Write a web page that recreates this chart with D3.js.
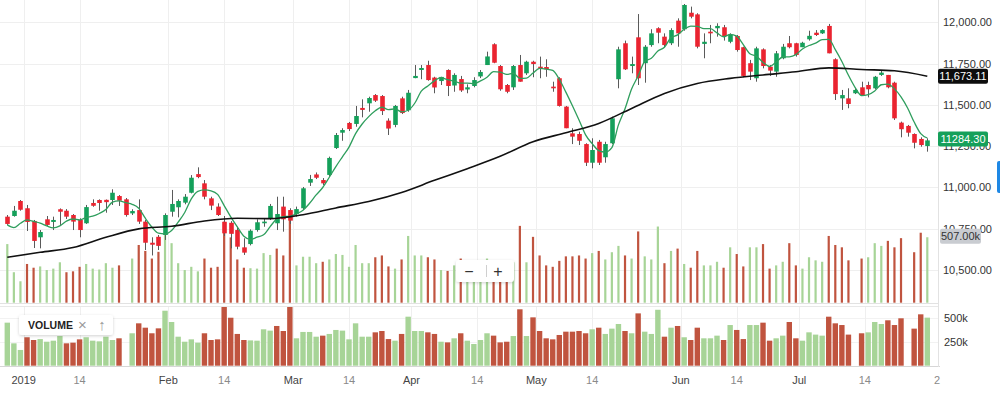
<!DOCTYPE html>
<html><head><meta charset="utf-8">
<script src="https://cdn.jsdelivr.net/npm/d3@7"></script>
<style>
html,body{margin:0;padding:0;background:#fff;overflow:hidden;}
svg{display:block;font-family:"Liberation Sans",Arial,Helvetica,sans-serif;}
</style></head><body>
<svg id="chart" width="1000" height="395"></svg>
<script>
// ---------------- data ----------------
const opens = [10822,10826,10917,10873,10796,10697,10806,10790,10867,10858,10832,10802,10782,10905,10923,10924,10923,10947,10927,10842,
10862,10792,10664,10700,10711,10852,10879,10907,10967,11080,11024,10933,10883,10791,10785,10741,10636,10656,10741,10782,
10812,10782,10883,10862,10838,10873,11028,11078,11044,11075,11238,11331,11390,11384,11481,11509,11559,11553,11404,11378,
11539,11467,11662,11711,11741,11665,11644,11711,11617,11656,11593,11614,11672,11741,11867,11735,11620,11606,11741,11691,
11761,11731,11729,11610,11661,11489,11327,11323,11262,11149,11276,11182,11267,11655,11873,11735,11909,11752,11862,11964,
11913,11873,12010,11958,12058,12048,11869,11943,11964,11970,11882,11917,11849,11752,11661,11836,11731,11701,11782,11873,
11873,11849,11897,11937,11933,11978,11776,11539,11539,11570,11606,11620,11600,11681,11681,11634,11392,11372,11323,11293,11250];
const highs = [10832,10887,10923,10893,10802,10741,10826,10822,10872,10868,10838,10812,10893,10927,10927,10926,10988,10953,10935,10867,
10927,10802,10697,10711,10842,10984,10927,10959,11074,11121,11044,10943,10903,10826,10795,10761,10691,10745,10806,10812,
10899,10943,10943,10873,10883,11002,11075,11090,11056,11186,11329,11358,11396,11493,11533,11549,11565,11559,11418,11499,
11549,11590,11741,11741,11767,11670,11670,11715,11691,11675,11624,11667,11711,11822,11873,11741,11626,11741,11802,11767,
11767,11792,11776,11640,11667,11493,11358,11337,11267,11297,11287,11276,11428,11852,11889,11792,12050,11862,11958,11970,
11933,11964,12024,12111,12095,12055,11933,11984,11994,11984,11933,11923,11852,11772,11852,11842,11741,11826,11869,11917,
11876,11882,11949,11953,11958,11990,11782,11590,11600,11600,11640,11640,11675,11707,11681,11640,11398,11378,11327,11303,11297];
const lows = [10772,10822,10858,10735,10632,10630,10766,10741,10772,10808,10741,10697,10778,10882,10858,10846,10893,10887,10822,10832,
10778,10620,10587,10620,10681,10822,10818,10897,10963,11055,10927,10862,10826,10705,10630,10624,10590,10648,10731,10761,
10802,10741,10731,10778,10822,10862,11008,11050,11014,11064,11232,11282,11341,11367,11424,11458,11517,11438,11317,11364,
11444,11458,11661,11655,11646,11570,11620,11553,11579,11578,11570,11606,11662,11741,11752,11585,11570,11590,11640,11681,
11667,11661,11670,11579,11489,11358,11262,11256,11129,11115,11135,11149,11262,11600,11711,11691,11620,11634,11852,11873,
11849,11862,11852,11949,12024,11842,11782,11873,11913,11889,11873,11822,11667,11650,11640,11721,11675,11670,11776,11842,
11792,11849,11889,11917,11929,11812,11529,11469,11479,11565,11559,11545,11594,11675,11600,11408,11303,11307,11236,11246,11216];
const closes = [10778,10858,10864,10790,10675,10729,10772,10802,10852,10822,10792,10741,10880,10888,10905,10910,10967,10919,10832,10856,
10792,10664,10652,10645,10832,10899,10917,10943,11058,11062,10943,10889,10832,10721,10718,10640,10604,10737,10788,10792,
10887,10838,10806,10798,10868,10994,11050,11058,11024,11178,11317,11347,11353,11432,11469,11541,11525,11462,11356,11493,
11450,11573,11675,11723,11650,11605,11669,11614,11681,11587,11606,11650,11699,11793,11755,11594,11579,11735,11640,11761,
11747,11719,11715,11600,11493,11358,11307,11282,11149,11226,11149,11262,11418,11836,11715,11747,11661,11852,11933,11937,
11862,11953,11933,12105,12034,11852,11882,11933,11978,11917,11923,11832,11675,11701,11842,11735,11707,11812,11852,11849,
11802,11876,11918,11923,11953,11812,11565,11559,11505,11590,11559,11594,11670,11695,11606,11418,11352,11331,11270,11256,11284.30];
// volume in thousands (null = no volume reported)
const volumes = [454,236,166,300,271,281,253,264,313,236,243,278,300,264,257,306,271,289,null,342,
447,401,342,394,580,461,306,253,278,243,342,271,278,628,506,335,271,267,264,384,
370,419,366,718,289,356,356,306,317,335,377,370,278,447,306,306,352,366,281,264,
335,517,366,366,352,335,253,246,289,342,264,229,271,342,317,246,253,313,595,313,
510,366,289,278,324,359,359,366,342,384,401,335,391,440,366,342,552,359,335,590,
306,401,419,300,271,401,289,289,317,271,429,377,281,429,429,454,264,289,317,461,
289,264,352,328,317,517,447,429,328,null,342,352,461,440,479,429,500,null,391,542,507];
// closes of the four sessions before the first visible bar (for the 5-bar average)
const priorCloses = [10938,10734,10690,10720];
// 50-bar moving average every 5th bar
const ma50Every5 = [10576,10606,10635,10697,10748,10764,10796,10812,10810,10834,10875,10914,10969,11042,11113,11188,11276,11331,11387,11478,
11569,11629,11660,11681,11700,11724,11714,11706,11673.11];
const xTickLabels = ["2019","14","Feb","14","Mar","14","Apr","14","May","14","Jun","14","Jul","14","2"];
const xTickBars   = [2.5,11,24.5,33,43.5,52,61.5,71.5,80.5,89,102.5,111,120.5,130.5,141.5];
const priceTicks = [10500,10750,11000,11250,11500,11750,12000];
const volumeTicks = [250,500];

// ---------------- layout ----------------
const plotRight = 938;
const mainBottom = 303, volTop = 307, volBottom = 366;
const svg = d3.select("#chart");
const defs = svg.append("defs");
defs.append("clipPath").attr("id","clipMain").append("rect").attr("x",0).attr("y",0).attr("width",plotRight).attr("height",mainBottom);
defs.append("clipPath").attr("id","clipVol").append("rect").attr("x",0).attr("y",volTop).attr("width",plotRight).attr("height",volBottom-volTop);
const sh = defs.append("filter").attr("id","shadow").attr("x","-20%").attr("y","-40%").attr("width","140%").attr("height","180%");
sh.append("feDropShadow").attr("dx",0).attr("dy",1).attr("stdDeviation",1.6).attr("flood-color","#000").attr("flood-opacity",0.18);

const n = closes.length;
const x = d3.scaleLinear().domain([0, n-1]).range([7.3, 927.3]);
const y = d3.scaleLinear().domain([10500, 12000]).range([269.8, 22.3]);
const vOver = d3.scaleLinear().domain([0, d3.max(volumes)]).range([302.7, 210]);
const vPane = d3.scaleLinear().domain([0, 500]).range([365.7, 318.3]);

const upC = "#14a05a", dnC = "#ea2430";
const volUp = "#a7d497", volDn = "#c0543f";

const isUp = i => {
  const prev = i > 0 ? closes[i-1] : priorCloses[priorCloses.length-1];
  return closes[i] >= prev;
};

// grid
const grid = svg.append("g");
grid.selectAll("line.h").data(priceTicks).join("line")
  .attr("x1",0).attr("x2",plotRight).attr("y1",d=>Math.round(y(d))+0.5).attr("y2",d=>Math.round(y(d))+0.5)
  .attr("stroke","#efefef");
grid.selectAll("line.hv").data(volumeTicks).join("line")
  .attr("x1",0).attr("x2",plotRight).attr("y1",d=>Math.round(vPane(d))+0.5).attr("y2",d=>Math.round(vPane(d))+0.5)
  .attr("stroke","#f2f2f2");
const vt = xTickBars.slice(0,-1);
grid.selectAll("line.v1").data(vt).join("line")
  .attr("x1",d=>Math.round(x(d))+0.5).attr("x2",d=>Math.round(x(d))+0.5).attr("y1",0).attr("y2",mainBottom)
  .attr("stroke","#efefef");
grid.selectAll("line.v2").data(vt).join("line")
  .attr("x1",d=>Math.round(x(d))+0.5).attr("x2",d=>Math.round(x(d))+0.5).attr("y1",volTop).attr("y2",volBottom)
  .attr("stroke","#efefef");

// panel borders
svg.append("line").attr("x1",0).attr("x2",plotRight).attr("y1",303.5).attr("y2",303.5).attr("stroke","#e2e2e2");
svg.append("line").attr("x1",0).attr("x2",plotRight).attr("y1",306.5).attr("y2",306.5).attr("stroke","#e8e8e8");
svg.append("line").attr("x1",0).attr("x2",plotRight+2).attr("y1",366.5).attr("y2",366.5).attr("stroke","#d6d6d6");
svg.append("line").attr("x1",plotRight+0.5).attr("x2",plotRight+0.5).attr("y1",0).attr("y2",367).attr("stroke","#e2e2e2");

// main pane
const main = svg.append("g").attr("clip-path","url(#clipMain)");
const idx = d3.range(n);
// volume underlay
main.append("g").selectAll("rect").data(idx.filter(i=>volumes[i]!=null)).join("rect")
  .attr("x",i=>x(i)-1.1).attr("width",2.2)
  .attr("y",i=>vOver(volumes[i])).attr("height",i=>vOver(0)-vOver(volumes[i]))
  .attr("fill",i=>isUp(i)?volUp:volDn);
// wicks
main.append("g").selectAll("line").data(idx).join("line")
  .attr("x1",i=>Math.round(x(i))+0.5).attr("x2",i=>Math.round(x(i))+0.5)
  .attr("y1",i=>y(highs[i])).attr("y2",i=>y(lows[i]))
  .attr("stroke","#5a5a5a").attr("stroke-width",1);
// bodies
main.append("g").selectAll("rect").data(idx).join("rect")
  .attr("x",i=>Math.round(x(i))+0.5-2.3).attr("width",4.6)
  .attr("y",i=>y(Math.max(opens[i],closes[i])))
  .attr("height",i=>Math.max(1.2, Math.abs(y(opens[i])-y(closes[i]))))
  .attr("fill",i=>closes[i]>=opens[i]?upC:dnC);
// 5-bar moving average
const allC = priorCloses.concat(closes);
const ma5 = idx.map(i => d3.mean(allC.slice(i, i+5)));
main.append("path").datum(idx)
  .attr("d", d3.line().x(i=>x(i)).y(i=>y(ma5[i])).curve(d3.curveMonotoneX))
  .attr("fill","none").attr("stroke","#2f9e5d").attr("stroke-width",1.3);
// 50-bar moving average
main.append("path").datum(ma50Every5.map((v,k)=>[k*5,v]))
  .attr("d", d3.line().x(d=>x(d[0])).y(d=>y(d[1])).curve(d3.curveMonotoneX))
  .attr("fill","none").attr("stroke","#111").attr("stroke-width",1.6);

// volume pane
const vol = svg.append("g").attr("clip-path","url(#clipVol)");
vol.selectAll("rect").data(idx.filter(i=>volumes[i]!=null)).join("rect")
  .attr("x",i=>x(i)-2.7).attr("width",5.4)
  .attr("y",i=>vPane(volumes[i])).attr("height",i=>vPane(0)-vPane(volumes[i]))
  .attr("fill",i=>isUp(i)?volUp:volDn);

// axes text
const fmt = d3.format(",.2f");
svg.append("g").selectAll("text").data(priceTicks).join("text")
  .attr("x",943).attr("y",d=>y(d)).attr("dy","0.36em")
  .attr("font-size",11).attr("fill","#333").text(d=>fmt(d));
svg.append("g").selectAll("text").data(volumeTicks).join("text")
  .attr("x",944).attr("y",d=>vPane(d)).attr("dy","0.36em")
  .attr("font-size",11).attr("fill","#333").text(d=>d+"k");
svg.append("g").selectAll("text").data(xTickBars).join("text")
  .attr("x",d=>x(d)).attr("y",384).attr("text-anchor","middle")
  .attr("font-size",11).attr("fill",(d,i)=>/^\d{1,2}$/.test(xTickLabels[i])?"#8a8a8a":"#444")
  .text((d,i)=>xTickLabels[i]);

// price / value badges
function badge(cy, txt, fill, color, x0, w){
  const g = svg.append("g");
  g.append("rect").attr("x",x0).attr("y",cy-7.5).attr("width",w).attr("height",15).attr("rx",2).attr("fill",fill);
  g.append("text").attr("x",x0+w/2).attr("y",cy).attr("dy","0.36em").attr("text-anchor","middle")
    .attr("font-size",11).attr("fill",color).text(txt);
}
badge(y(ma50Every5[ma50Every5.length-1]), fmt(ma50Every5[ma50Every5.length-1]), "#0d0d0d", "#fff", 938, 50);
badge(y(closes[n-1]) - 1.5, d3.format(".2f")(closes[n-1]), "#15a05a", "#fff", 938, 50);
badge(vOver(volumes[n-1]) - 1, d3.format(".2f")(volumes[n-1])+"k", "#c9ccd1", "#333", 940, 41);

// right-edge blue tab
svg.append("rect").attr("x",997).attr("y",161).attr("width",5).attr("height",32).attr("rx",2).attr("fill","#1e88e5");

// zoom buttons
const zb = svg.append("g");
zb.append("rect").attr("x",456).attr("y",260).attr("width",58).attr("height",22).attr("rx",3)
  .attr("fill","#fff").attr("filter","url(#shadow)");
zb.append("line").attr("x1",486.5).attr("x2",486.5).attr("y1",265).attr("y2",277).attr("stroke","#cfcfcf");
zb.append("text").attr("x",469).attr("y",271).attr("dy","0.36em").attr("text-anchor","middle").attr("font-size",16).attr("fill","#333").text("\u2212");
zb.append("text").attr("x",498).attr("y",271).attr("dy","0.36em").attr("text-anchor","middle").attr("font-size",16).attr("fill","#333").text("+");

// study label
const sl = svg.append("g");
sl.append("rect").attr("x",19).attr("y",315).attr("width",94).attr("height",20).attr("rx",3)
  .attr("fill","#fff").attr("filter","url(#shadow)");
sl.append("text").attr("x",28).attr("y",325).attr("dy","0.36em").attr("font-size",10.5).attr("fill","#222").attr("font-weight","600").text("VOLUME");
sl.append("text").attr("x",82.5).attr("y",325).attr("dy","0.36em").attr("text-anchor","middle").attr("font-size",15).attr("fill","#9a9a9a").text("\u00D7");
sl.append("text").attr("x",102).attr("y",325).attr("dy","0.36em").attr("text-anchor","middle").attr("font-size",15).attr("fill","#9a9a9a").text("\u2191");
</script>
</body></html>
